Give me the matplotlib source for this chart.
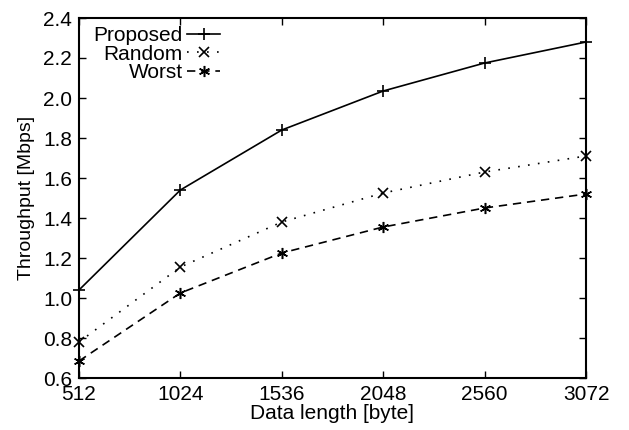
import matplotlib
matplotlib.use("Agg")
import matplotlib.pyplot as plt

plt.rcParams['font.family'] = ['Liberation Sans', 'DejaVu Sans']

data_length = [512, 1024, 1536, 2048, 2560, 3072]
proposed = [1.04, 1.54, 1.84, 2.035, 2.175, 2.28]
random_ = [0.78, 1.155, 1.38, 1.525, 1.63, 1.71]
worst = [0.685, 1.025, 1.225, 1.355, 1.45, 1.52]
yticks = [0.6, 0.8, 1.0, 1.2, 1.4, 1.6, 1.8, 2.0, 2.2, 2.4]

fig = plt.figure(figsize=(6.29, 4.30), dpi=100)
ax = fig.add_axes([79/629, 1-378/430, (586-79)/629, (378-18)/430])

ax.plot(data_length, proposed, '-', color='black', marker='+', ms=8.5, mew=1.2, lw=1.2, label='Proposed', clip_on=False)
ax.plot(data_length, random_, color='black', ls=(0, (1, 5)), marker='x', ms=7, mew=1.2, lw=1.2, label='Random', clip_on=False)
ax.plot(data_length, worst, color='black', ls=(0, (5, 3.5)), marker=(6, 2, 0), ms=8, mew=1.1, lw=1.2, label='Worst', clip_on=False)

ax.set_xlim(512, 3072)
ax.set_ylim(0.6, 2.4)
ax.set_xticks(data_length)
ax.set_yticks(yticks)
ax.set_yticklabels([f"{v:.1f}" for v in yticks])
ax.tick_params(direction='in', top=True, right=True, length=5, width=1, labelsize=15, pad=5)
for s in ax.spines.values():
    s.set_linewidth(1.5)

ax.set_xlabel('Data length [byte]', fontsize=15, labelpad=0)
ax.set_ylabel('Throughput [Mbps]', fontsize=14, labelpad=6)

leg = ax.legend(loc='upper left', frameon=False, markerfirst=False, fontsize=15,
                handlelength=1.6, handletextpad=0.2, labelspacing=-0.03,
                borderaxespad=0.0, bbox_to_anchor=(0.012, 1.0))

fig.savefig('out.png', dpi=100)
